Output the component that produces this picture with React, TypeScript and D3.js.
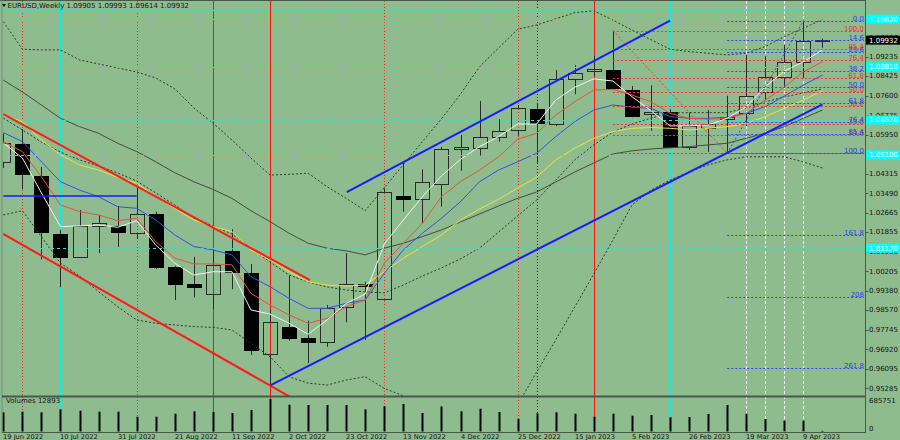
import React from "react";
import * as d3 from "d3";

const W = 900;
const H = 440;

// ---------- data ----------
const dateLabels = ["19 Jun 2022", "10 Jul 2022", "31 Jul 2022", "21 Aug 2022", "11 Sep 2022", "2 Oct 2022", "23 Oct 2022", "13 Nov 2022", "4 Dec 2022", "25 Dec 2022", "15 Jan 2023", "5 Feb 2023", "26 Feb 2023", "19 Mar 2023", "9 Apr 2023"];
const dateLabelIdx = [0, 3, 6, 9, 12, 15, 18, 21, 24, 27, 30, 33, 36, 39, 42];

const opens = [1.0480, 1.0555, 1.0421, 1.0177, 1.0081, 1.0212, 1.0212, 1.0180, 1.0260, 1.0039, 0.9966, 0.9923, 1.0107, 1.0011, 0.9670, 0.9784, 0.9738, 0.9724, 0.9871, 0.9965, 0.9903, 1.0337, 1.0324, 1.0386, 1.0535, 1.0538, 1.0584, 1.0615, 1.0703, 1.0640, 1.0830, 1.0864, 1.0867, 1.0783, 1.0681, 1.0689, 1.0544, 1.0624, 1.0660, 1.0685, 1.0774, 1.0839, 1.0900, 1.09905];
const highs = [1.0600, 1.0618, 1.0460, 1.0194, 1.0278, 1.0257, 1.0295, 1.0376, 1.0271, 1.0043, 1.0081, 1.0110, 1.0197, 1.0051, 0.9857, 1.0001, 0.9812, 0.9878, 1.0096, 0.9976, 1.0369, 1.0477, 1.0449, 1.0544, 1.0594, 1.0737, 1.0660, 1.0720, 1.0728, 1.0867, 1.0888, 1.0926, 1.1033, 1.0800, 1.0803, 1.0703, 1.0689, 1.0699, 1.0759, 1.0931, 1.0926, 1.0973, 1.1075, 1.09993];
const lows = [1.0455, 1.0365, 1.0070, 0.9953, 1.0078, 1.0096, 1.0123, 1.0156, 1.0030, 0.9899, 0.9910, 0.9861, 0.9945, 0.9668, 0.9541, 0.9728, 0.9633, 0.9702, 0.9805, 0.9731, 0.9897, 1.0271, 1.0222, 1.0292, 1.0443, 1.0507, 1.0566, 1.0590, 1.0477, 1.0632, 1.0765, 1.0842, 1.0783, 1.0668, 1.0612, 1.0538, 1.0531, 1.0523, 1.0517, 1.0632, 1.0741, 1.0797, 1.0832, 1.09614];
const closes = [1.0559, 1.0428, 1.0187, 1.0079, 1.0212, 1.0222, 1.0187, 1.0260, 1.0037, 0.9965, 0.9955, 1.0046, 1.0016, 0.9689, 0.9805, 0.9738, 0.9721, 0.9864, 0.9965, 0.9960, 1.0353, 1.0324, 1.0395, 1.0534, 1.0544, 1.0584, 1.0612, 1.0706, 1.0646, 1.0828, 1.0854, 1.0870, 1.0793, 1.0675, 1.0692, 1.0544, 1.0633, 1.0640, 1.0668, 1.0759, 1.0837, 1.0902, 1.0989, 1.09932];
const volumes = [405000, 418000, 405000, 468000, 439000, 418000, 418000, 312000, 312000, 376000, 426000, 411000, 390000, 454000, 685751, 565000, 559000, 559000, 559000, 468000, 532000, 580000, 390000, 528000, 426000, 481000, 411000, 264000, 384000, 405000, 376000, 312000, 376000, 333000, 348000, 300000, 306000, 369000, 559000, 376000, 264000, 228000, 228000, 12893];

const maWhite = [1.0560, 1.0497, 1.0350, 1.0208, 1.0211, 1.0215, 1.0205, 1.0233, 1.0131, 1.0054, 1.0004, 1.0018, 1.0018, 0.9857, 0.9840, 0.9801, 0.9755, 0.9815, 0.9885, 0.9924, 1.0135, 1.0236, 1.0334, 1.0421, 1.0491, 1.0545, 1.0587, 1.0640, 1.0640, 1.0741, 1.0795, 1.0830, 1.0821, 1.0755, 1.0696, 1.0632, 1.0632, 1.0636, 1.0664, 1.0713, 1.0797, 1.0863, 1.0902, 1.0952];
const maRed = [1.0566, 1.0524, 1.0418, 1.0299, 1.0271, 1.0257, 1.0233, 1.0243, 1.0145, 1.0075, 1.0051, 1.0051, 1.0047, 0.9927, 0.9878, 0.9836, 0.9801, 0.9822, 0.9871, 0.9899, 1.0054, 1.0138, 1.0222, 1.0334, 1.0397, 1.0446, 1.0502, 1.0576, 1.0601, 1.0678, 1.0734, 1.0783, 1.0786, 1.0762, 1.0734, 1.0685, 1.0664, 1.0660, 1.0664, 1.0685, 1.0741, 1.0795, 1.0860, 1.0902];
const maBlue = [1.0604, 1.0566, 1.0481, 1.0397, 1.0362, 1.0334, 1.0292, 1.0285, 1.0236, 1.0173, 1.0124, 1.0110, 1.0089, 0.9997, 0.9955, 0.9906, 0.9864, 0.9864, 0.9885, 0.9899, 1.0012, 1.0110, 1.0180, 1.0243, 1.0313, 1.0397, 1.0446, 1.0481, 1.0517, 1.0587, 1.0650, 1.0699, 1.0720, 1.0711, 1.0706, 1.0671, 1.0664, 1.0664, 1.0668, 1.0685, 1.0713, 1.0758, 1.0804, 1.0846];
const maYellow = [1.0678, 1.0650, 1.0573, 1.0510, 1.0468, 1.0446, 1.0416, 1.0391, 1.0334, 1.0285, 1.0236, 1.0208, 1.0187, 1.0110, 1.0068, 1.0018, 0.9976, 0.9962, 0.9958, 0.9962, 1.0018, 1.0075, 1.0124, 1.0173, 1.0236, 1.0282, 1.0323, 1.0370, 1.0416, 1.0489, 1.0538, 1.0580, 1.0608, 1.0622, 1.0625, 1.0622, 1.0615, 1.0622, 1.0629, 1.0643, 1.0671, 1.0706, 1.0741, 1.0780];
const maGrey = [1.0825, 1.0775, 1.0720, 1.0664, 1.0629, 1.0601, 1.0559, 1.0524, 1.0481, 1.0435, 1.0397, 1.0365, 1.0327, 1.0275, 1.0229, 1.0180, 1.0138, 1.0117, 1.0106, 1.0089, 1.0117, 1.0138, 1.0166, 1.0194, 1.0228, 1.0261, 1.0295, 1.0327, 1.0354, 1.0396, 1.0438, 1.0476, 1.0514, 1.0527, 1.0535, 1.0540, 1.0545, 1.0552, 1.0559, 1.0580, 1.0601, 1.0629, 1.0664, 1.0699];
const bandUpper = [1.1071, 1.0955, 1.0952, 1.0952, 1.0910, 1.0893, 1.0876, 1.0859, 1.0834, 1.0788, 1.0708, 1.0644, 1.0573, 1.0497, 1.0425, 1.0428, 1.0433, 1.0376, 1.0327, 1.0275, 1.0372, 1.0469, 1.0566, 1.0662, 1.0766, 1.0881, 1.0960, 1.1039, 1.1057, 1.1083, 1.1109, 1.1117, 1.1077, 1.1036, 1.0995, 1.0955, 1.0945, 1.0938, 1.0931, 1.0938, 1.0966, 1.1008, 1.1043, 1.1081];
const bandLower = [1.0257, 1.0275, 1.0166, 1.0054, 1.0000, 0.9934, 0.9871, 0.9815, 0.9801, 0.9794, 0.9787, 0.9784, 0.9773, 0.9717, 0.9660, 0.9576, 0.9549, 0.9541, 0.9562, 0.9576, 0.9527, 0.9495, 0.9394, 0.9310, 0.9247, 0.9226, 0.9310, 0.9457, 0.9596, 0.9731, 0.9870, 1.0009, 1.0152, 1.0299, 1.0362, 1.0404, 1.0438, 1.0468, 1.0489, 1.0502, 1.0502, 1.0502, 1.0480, 1.0455];
const maDotted = [1.0665, 1.0615, 1.0564, 1.0522, 1.0489, 1.0463, 1.0434, 1.0400, 1.0350, 1.0299, 1.0244, 1.0211, 1.0177, 1.0118, 1.0059, 1.0004, 0.9975, 0.9954, 0.9941, 0.9933, 0.9929, 0.9962, 1.0000, 1.0034, 1.0072, 1.0118, 1.0185, 1.0253, 1.0320, 1.0404, 1.0489, 1.0552, 1.0606, 1.0640, 1.0665, 1.0686, 1.0688, 1.0688, 1.0688, 1.0708, 1.0733, 1.0754, 1.0771, 1.0788];

const priceTicks = [1.10885, 1.10060, 1.09235, 1.08425, 1.07600, 1.06775, 1.05950, 1.05125, 1.04315, 1.03490, 1.02665, 1.01855, 1.01030, 1.00205, 0.99380, 0.98570, 0.97745, 0.96920, 0.96095, 0.95285];
const volumeTicks = [685751, 0];

const cyanLevels = [1.1082, 1.0881, 1.0657, 1.0510, 1.0117];
const cyanLabels = ["1.10820", "1.08810", "1.06570", "1.05100", "1.01170"];
const cyanExtraLevels = [1.1122];
const lastPrice = 1.09932;

const redSolidV = [11, 14, 31];
const redDotV = [1, 7, 20, 27];
const blackDotV = [28];
const cyanV = [3, 35];
const whiteDashV = [39, 40, 41, 42];

// trend lines: [index, price] pairs
const redChannel = [[[0, 1.0682], [16.1, 0.9983]], [[0, 1.0177], [16, 0.9448]]];
const blueChannel = [[[14.04, 0.9541], [43, 1.0723]], [[18.03, 1.0353], [35, 1.1075]]];
const blueHorizontal = [[0, 1.0337], [7, 1.0337]];

// fibonacci
const redFibHigh = [32, 1.1033];
const redFibLow = [38, 1.05167];
const redFibLevels = [0, 14.6, 23.6, 38.2, 50, 61.8, 76.4, 85.4, 100];
const redFibLabels = ["", "14.6", "23.6", "38.2", "50.0", "61.8", "76.4", "85.4", "100.0"];
const blueFibLow = [38, 1.05167];
const blueFibHigh = [42, 1.1075];
const blueFibLevels = [0, 14.6, 23.6, 38.2, 50, 61.8, 76.4, 85.4, 100, 161.8, 208, 261.8];
const blueFibLabels = ["0.0", "14.6", "23.6", "38.2", "50.0", "61.8", "76.4", "85.4", "100.0", "161.8", "208", "261.8"];

// ---------- styles ----------
const BG = "#8fbc8f";
const FRAME = "#4a584a";
const FONT = "DejaVu Sans";
const TXT = "#141414";

const AXIS_X = 865.5;
const MAIN_TOP = 1;
const MAIN_BOTTOM = 396;
const VOL_BOTTOM = 432;

export default function App() {
  const n = opens.length;
  const x = d3.scaleLinear().domain([0, 43]).range([3.3, 822.45]);
  const y = d3.scaleLinear().domain([0.95285, 1.0595]).range([388, 134.7]);
  const v = d3.scaleLinear().domain([0, 685751]).range([431.5, 399]);
  const px = (i: number) => Math.round(x(i)) + 0.5;

  const line = d3.line<number>().x((_, i) => x(i)).y((d) => y(d));
  const seg = d3.line<number[]>().x((d) => x(d[0])).y((d) => y(d[1]));

  const fibRight = 864;

  return (
    <svg width={W} height={H} style={{ position: "fixed", left: 0, top: 0, display: "block" }} xmlns="http://www.w3.org/2000/svg">
      <defs>
        <clipPath id="mainClip">
          <rect x={3} y={MAIN_TOP} width={AXIS_X - 3} height={MAIN_BOTTOM - MAIN_TOP} />
        </clipPath>
        <clipPath id="allClip">
          <rect x={3} y={MAIN_TOP} width={AXIS_X - 3} height={VOL_BOTTOM - MAIN_TOP} />
        </clipPath>
      </defs>
      <rect x={0} y={0} width={W} height={H} fill={BG} />

      {/* vertical lines (through both windows) */}
      <g clipPath="url(#allClip)">
        {redSolidV.map((i) => (
          <line key={"rs" + i} x1={px(i)} x2={px(i)} y1={MAIN_TOP} y2={VOL_BOTTOM} stroke="#ff1010" strokeWidth={1} />
        ))}
        {redDotV.map((i) => (
          <line key={"rd" + i} x1={px(i)} x2={px(i)} y1={MAIN_TOP} y2={VOL_BOTTOM} stroke="#ff2020" strokeWidth={1} strokeDasharray="1,2" />
        ))}
        {blackDotV.map((i) => (
          <line key={"bd" + i} x1={px(i)} x2={px(i)} y1={MAIN_TOP} y2={VOL_BOTTOM} stroke="#1a1a1a" strokeWidth={1} strokeDasharray="1,2" />
        ))}
        {cyanV.map((i) => (
          <line key={"cv" + i} x1={px(i)} x2={px(i)} y1={MAIN_TOP} y2={VOL_BOTTOM} stroke="#00f0f0" strokeWidth={1} />
        ))}
        {whiteDashV.map((i) => (
          <line key={"wv" + i} x1={px(i)} x2={px(i)} y1={MAIN_TOP} y2={VOL_BOTTOM} stroke="#f2f2f2" strokeWidth={1} strokeDasharray="3,2" />
        ))}
      </g>

      <g clipPath="url(#mainClip)">
        {/* candles */}
        {d3.range(n).map((i) => {
          const xc = px(i);
          const o = opens[i];
          const c = closes[i];
          const bull = c >= o;
          const top = Math.round(y(Math.max(o, c))) + 0.5;
          const bot = Math.max(Math.round(y(Math.min(o, c))) + 0.5, top + 1);
          const hi = y(highs[i]);
          const lo = y(lows[i]);
          return (
            <g key={"c" + i}>
              <line x1={xc} x2={xc} y1={hi} y2={top} stroke="#2a2a2a" strokeWidth={1} />
              <line x1={xc} x2={xc} y1={bot} y2={lo} stroke="#2a2a2a" strokeWidth={1} />
              <rect
                x={xc - 7}
                y={top}
                width={14}
                height={bot - top}
                fill={bull ? "none" : "#000"}
                stroke={bull ? "#2a2a2a" : "#000"}
                strokeWidth={1}
              />
            </g>
          );
        })}

        {/* indicators */}
        <path d={line(bandUpper) || ""} fill="none" stroke="#2b3a2b" strokeWidth={1} strokeDasharray="2,2" />
        <path d={line(bandLower) || ""} fill="none" stroke="#2b3a2b" strokeWidth={1} strokeDasharray="2,2" />
        <path d={line(maDotted) || ""} fill="none" stroke="#2b3a2b" strokeWidth={1} strokeDasharray="2,2" />
        <path d={line(maGrey) || ""} fill="none" stroke="#3e4e3e" strokeWidth={1} />
        <path d={line(maYellow) || ""} fill="none" stroke="#e6e63c" strokeWidth={1} />
        <path d={line(maBlue) || ""} fill="none" stroke="#3350e0" strokeWidth={1} />
        <path d={line(maRed) || ""} fill="none" stroke="#e8503c" strokeWidth={1} />
        <path d={line(maWhite) || ""} fill="none" stroke="#f2f2f2" strokeWidth={1} />

        {/* cyan horizontal lines */}
        {[...cyanExtraLevels, ...cyanLevels].map((p, k) => (
          <line key={"ch" + k} x1={3} x2={AXIS_X} y1={Math.round(y(p)) + 0.5} y2={Math.round(y(p)) + 0.5} stroke="#19e6e6" strokeWidth={1} strokeDasharray="3,3" />
        ))}

        {/* fibonacci: red */}
        {redFibLevels.map((lv, k) => {
          const p = redFibLow[1] + ((redFibHigh[1] - redFibLow[1]) * lv) / 100;
          const yy = Math.round(y(p)) + 0.5;
          return (
            <g key={"rf" + k}>
              <line x1={x(redFibHigh[0])} x2={fibRight} y1={yy} y2={yy} stroke="#ff3030" strokeWidth={1} strokeDasharray="2,2" />
              {redFibLabels[k] && (
                <text x={fibRight} y={yy - 0.5} textAnchor="end" fontFamily={FONT} fontSize={7} fill="#e83030">{redFibLabels[k]}</text>
              )}
            </g>
          );
        })}
        <path d={seg([redFibHigh, redFibLow]) || ""} stroke="#ff3030" strokeWidth={1} strokeDasharray="2,2" fill="none" />

        {/* fibonacci: blue */}
        {blueFibLevels.map((lv, k) => {
          const p = blueFibHigh[1] - ((blueFibHigh[1] - blueFibLow[1]) * lv) / 100;
          const yy = Math.round(y(p)) + 0.5;
          return (
            <g key={"bf" + k}>
              <line x1={x(blueFibLow[0])} x2={fibRight} y1={yy} y2={yy} stroke="#3040ff" strokeWidth={1} strokeDasharray="2,2" />
              <text x={fibRight} y={yy - 0.5} textAnchor="end" fontFamily={FONT} fontSize={7} fill="#2a3ee8">{blueFibLabels[k]}</text>
            </g>
          );
        })}
        <path d={seg([blueFibLow, blueFibHigh]) || ""} stroke="#3040ff" strokeWidth={1} strokeDasharray="2,2" fill="none" />

        {/* trend lines */}
        {redChannel.map((s, k) => (
          <path key={"rc" + k} d={seg(s) || ""} stroke="#ff1a1a" strokeWidth={2} fill="none" />
        ))}
        {blueChannel.map((s, k) => (
          <path key={"bc" + k} d={seg(s) || ""} stroke="#1a1aff" strokeWidth={2} fill="none" />
        ))}
        <path d={seg(blueHorizontal) || ""} stroke="#1a1aff" strokeWidth={1.5} fill="none" />
      </g>

      {/* volumes */}
      {volumes.map((vol, i) => (
        <rect key={"v" + i} x={Math.round(x(i)) - 0.5} y={v(vol)} width={2} height={Math.max(v(0) - v(vol), 0)} fill="#000" />
      ))}

      {/* frame */}
      <line x1={0} x2={AXIS_X} y1={0.5} y2={0.5} stroke={FRAME} strokeWidth={1} />
      <line x1={2} x2={2} y1={0} y2={VOL_BOTTOM} stroke="#7a8a7a" strokeWidth={1} />
      <line x1={2} x2={AXIS_X} y1={MAIN_BOTTOM + 0.5} y2={MAIN_BOTTOM + 0.5} stroke={FRAME} strokeWidth={2} />
      <line x1={2} x2={AXIS_X} y1={VOL_BOTTOM + 0.5} y2={VOL_BOTTOM + 0.5} stroke={FRAME} strokeWidth={1} />
      <line x1={AXIS_X} x2={AXIS_X} y1={0} y2={VOL_BOTTOM + 1} stroke={FRAME} strokeWidth={1} />

      {/* title */}
      <polygon points="2,4 6,4 4,7" fill="#111" />
      <text x={7.5} y={8} fontFamily={FONT} fontSize={7} fill={TXT}>EURUSD,Weekly  1.09905 1.09993 1.09614 1.09932</text>
      <text x={6} y={403} fontFamily={FONT} fontSize={7} fill={TXT}>Volumes 12893</text>

      {/* price axis */}
      {priceTicks.map((p) => (
        <g key={"pt" + p}>
          <line x1={AXIS_X} x2={AXIS_X + 3} y1={Math.round(y(p)) + 0.5} y2={Math.round(y(p)) + 0.5} stroke={FRAME} />
          <text x={869} y={y(p) + 2.5} fontFamily={FONT} fontSize={7} fill={TXT}>{p.toFixed(5)}</text>
        </g>
      ))}
      {cyanLevels.map((p, k) => (
        <g key={"cl" + k}>
          <rect x={866} y={y(p) - 4.5} width={34} height={9} fill="#00ffff" />
          <text x={869} y={y(p) + 2.5} fontFamily={FONT} fontSize={7} fill="#ffffff">{cyanLabels[k]}</text>
        </g>
      ))}
      <rect x={866} y={y(lastPrice) - 4.5} width={34} height={9} fill="#000" />
      <text x={869} y={y(lastPrice) + 2.5} fontFamily={FONT} fontSize={7} fill="#ffffff">{lastPrice.toFixed(5)}</text>

      {/* volume axis */}
      {volumeTicks.map((t) => (
        <text key={"vt" + t} x={869} y={(t === 0 ? 428.3 : 400) + 2.5} fontFamily={FONT} fontSize={7} fill={TXT}>{String(t)}</text>
      ))}

      {/* time axis */}
      {dateLabelIdx.map((i, k) => (
        <text key={"d" + i} x={Math.round(x(i))} y={438.5} fontFamily={FONT} fontSize={6.7} fill={TXT}>{dateLabels[k]}</text>
      ))}
    </svg>
  );
}
